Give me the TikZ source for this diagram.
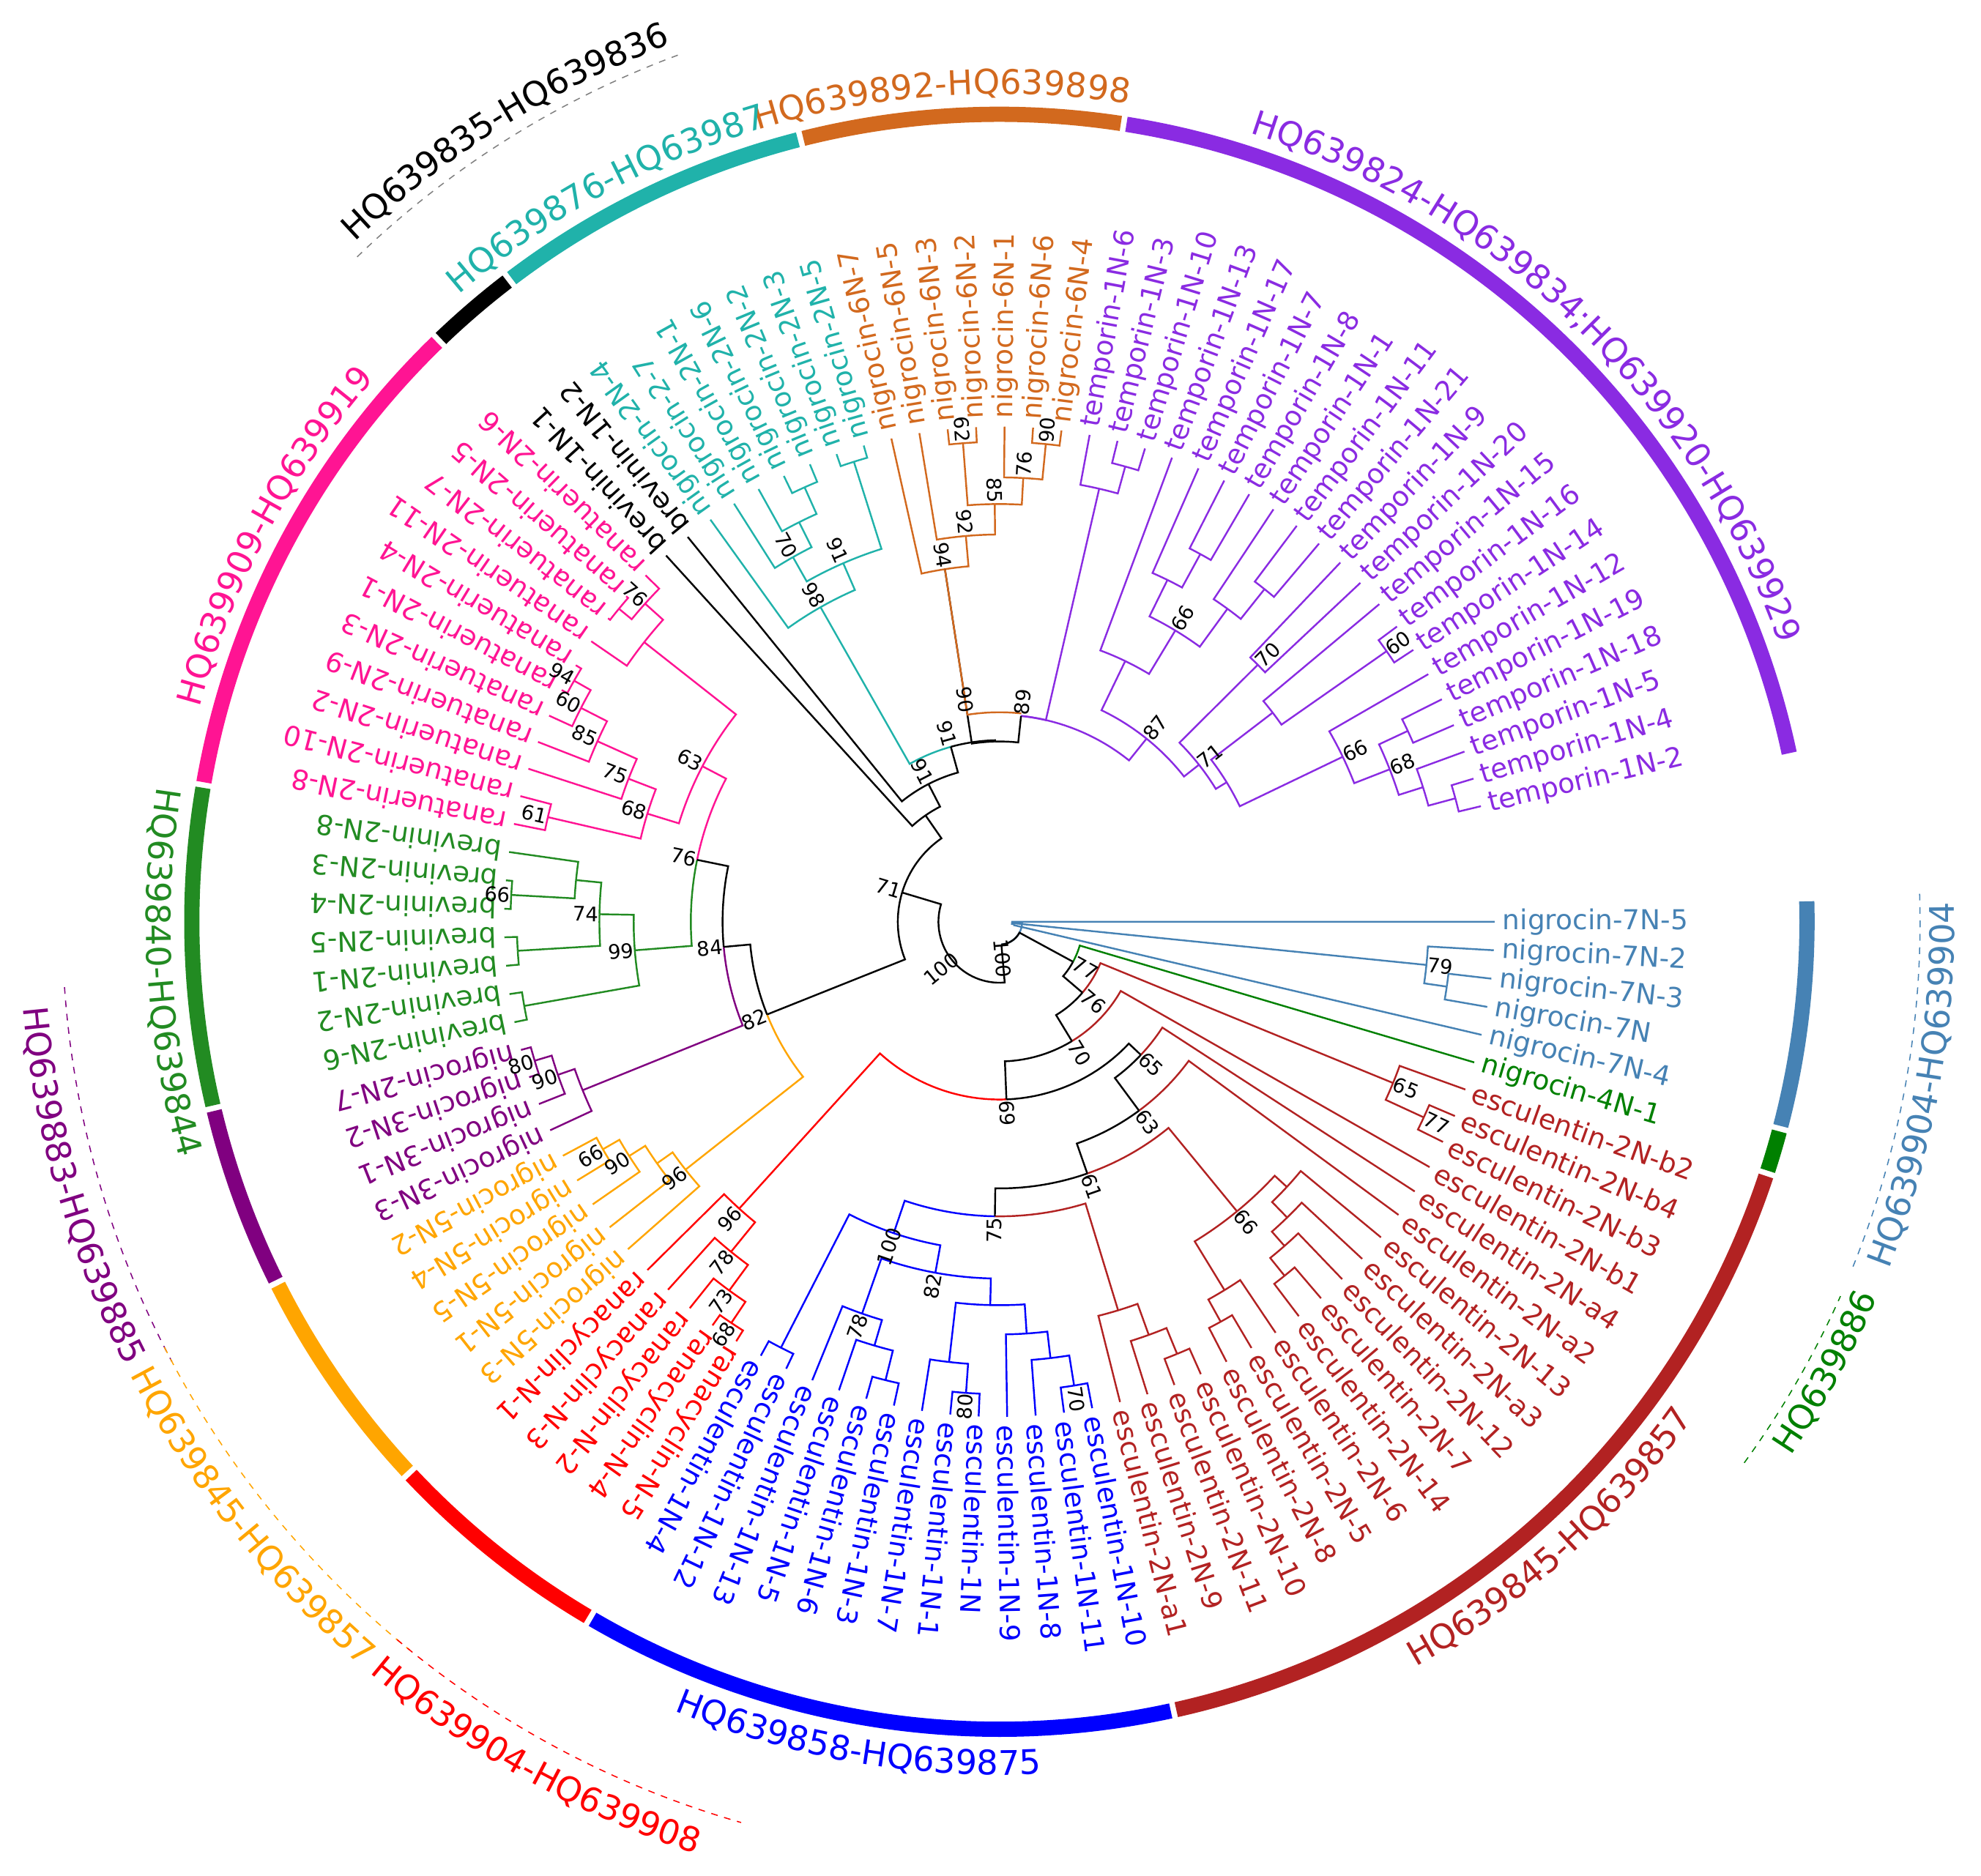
\documentclass[tikz,border=0pt]{standalone}
\usepackage{fontspec}
\setmainfont{DejaVu Sans}
\usetikzlibrary{decorations.text}
\definecolor{cSteel}{RGB}{70,130,180}
\definecolor{cGfour}{RGB}{0,128,0}
\definecolor{cBrown}{RGB}{178,34,34}
\definecolor{cBlue}{RGB}{0,0,255}
\definecolor{cRed}{RGB}{255,0,0}
\definecolor{cOrange}{RGB}{255,165,0}
\definecolor{cPurpleD}{RGB}{128,0,128}
\definecolor{cGreen}{RGB}{34,139,34}
\definecolor{cPink}{RGB}{255,20,147}
\definecolor{cTeal}{RGB}{32,178,170}
\definecolor{cChoc}{RGB}{210,105,30}
\definecolor{cViolet}{RGB}{138,43,226}
\newcommand\ringfont{\fontsize{15.2}{17}\selectfont}
\tikzset{
  br/.style={line width=0.8pt},
  leaf/.style={anchor=west,inner sep=0pt,font=\fontsize{12.3}{14}\selectfont},
  bs/.style={inner sep=0pt,font=\fontsize{9}{10}\selectfont,text=black},
  ringseg/.style={line width=0.24cm},
  dashlbl/.style={dashed,line width=0.5pt}
}
\newcommand\tlLeaf[4]{%
  \pgfmathsetmacro\tlang{-3.3*#2}%
  \expandafter\xdef\csname A@#1\endcsname{\tlang}%
  \expandafter\xdef\csname R@#1\endcsname{390}%
  \node[leaf,text=#4,rotate=\tlang] (#1) at (\tlang:396) {#3};}
\newcommand\tlDraw[6]{%
  \expandafter\xdef\csname A@#1\endcsname{\tlm}%
  \expandafter\xdef\csname R@#1\endcsname{#4}%
  \pgfmathsetmacro\tlra{\csname R@#2\endcsname}%
  \pgfmathsetmacro\tlrb{\csname R@#3\endcsname}%
  \draw[br,#5] (\tla:\tlra) -- (\tla:#4) arc[start angle=\tla,end angle=\tlm,radius=#4];
  \draw[br,#6] (\tlb:\tlrb) -- (\tlb:#4) arc[start angle=\tlb,end angle=\tlm,radius=#4];
  \coordinate (#1) at (\tlm:#4);}
\newcommand\tlNode[6]{%
  \pgfmathsetmacro\tla{\csname A@#2\endcsname}%
  \pgfmathsetmacro\tlb{\csname A@#3\endcsname}%
  \pgfmathsetmacro\tlm{(\tla+\tlb)/2}%
  \tlDraw{#1}{#2}{#3}{#4}{#5}{#6}}
\newcommand\tlNodeA[7]{%
  \pgfmathsetmacro\tla{\csname A@#2\endcsname}%
  \pgfmathsetmacro\tlb{\csname A@#3\endcsname}%
  \pgfmathsetmacro\tlm{#7}%
  \tlDraw{#1}{#2}{#3}{#4}{#5}{#6}}
\newcommand\tlBs[2]{%
  \pgfmathsetmacro\tlq{\csname A@#1\endcsname}%
  \pgfmathsetmacro\tlrot{cos(\tlq)>-0.0001 ? \tlq : \tlq+180}%
  \pgfmathsetmacro\tlrr{\csname R@#1\endcsname+11}%
  \node[bs,rotate=\tlrot] at (\tlq:\tlrr) {#2};}
\newcommand\tlRing[3]{\draw[ringseg,#3] (#1:636) arc[start angle=#1,end angle=#2,radius=636];}
\newcommand\tlRingLab[5]{\path[decorate,decoration={text along path,text align=center,text={|\ringfont\color{#4}|#5}}] (#1:#3) arc[start angle=#1,end angle=#2,radius=#3];}
\begin{document}
\begin{tikzpicture}[x=0.02cm,y=0.02cm]
\useasboundingbox (0,0) rectangle (1560,1477.5);
\begin{scope}[shift={(787,751.5)}]
% ---------------- leaves
\tlLeaf{sLfive}{0}{nigrocin-7N-5}{cSteel}
\tlLeaf{sLtwo}{1}{nigrocin-7N-2}{cSteel}
\tlLeaf{sLthree}{2}{nigrocin-7N-3}{cSteel}
\tlLeaf{sLsevenN}{3}{nigrocin-7N}{cSteel}
\tlLeaf{sLfour}{4}{nigrocin-7N-4}{cSteel}
\tlLeaf{nigfour}{5}{nigrocin-4N-1}{cGfour}
\tlLeaf{sbtwo}{6}{esculentin-2N-b2}{cBrown}
\tlLeaf{sbfour}{7}{esculentin-2N-b4}{cBrown}
\tlLeaf{sbthree}{8}{esculentin-2N-b3}{cBrown}
\tlLeaf{sbone}{9}{esculentin-2N-b1}{cBrown}
\tlLeaf{safour}{10}{esculentin-2N-a4}{cBrown}
\tlLeaf{satwo}{11}{esculentin-2N-a2}{cBrown}
\tlLeaf{sthirteen}{12}{esculentin-2N-13}{cBrown}
\tlLeaf{sathree}{13}{esculentin-2N-a3}{cBrown}
\tlLeaf{stwelve}{14}{esculentin-2N-12}{cBrown}
\tlLeaf{sseven}{15}{esculentin-2N-7}{cBrown}
\tlLeaf{sfourteen}{16}{esculentin-2N-14}{cBrown}
\tlLeaf{ssix}{17}{esculentin-2N-6}{cBrown}
\tlLeaf{sfive}{18}{esculentin-2N-5}{cBrown}
\tlLeaf{seight}{19}{esculentin-2N-8}{cBrown}
\tlLeaf{sten}{20}{esculentin-2N-10}{cBrown}
\tlLeaf{seleven}{21}{esculentin-2N-11}{cBrown}
\tlLeaf{snine}{22}{esculentin-2N-9}{cBrown}
\tlLeaf{saone}{23}{esculentin-2N-a1}{cBrown}
\tlLeaf{eLten}{24}{esculentin-1N-10}{cBlue}
\tlLeaf{eLeleven}{25}{esculentin-1N-11}{cBlue}
\tlLeaf{eLeight}{26}{esculentin-1N-8}{cBlue}
\tlLeaf{eLnine}{27}{esculentin-1N-9}{cBlue}
\tlLeaf{eLoneN}{28}{esculentin-1N}{cBlue}
\tlLeaf{eLone}{29}{esculentin-1N-1}{cBlue}
\tlLeaf{eLseven}{30}{esculentin-1N-7}{cBlue}
\tlLeaf{eLthree}{31}{esculentin-1N-3}{cBlue}
\tlLeaf{eLsix}{32}{esculentin-1N-6}{cBlue}
\tlLeaf{eLfive}{33}{esculentin-1N-5}{cBlue}
\tlLeaf{eLthirteen}{34}{esculentin-1N-13}{cBlue}
\tlLeaf{eLtwelve}{35}{esculentin-1N-12}{cBlue}
\tlLeaf{eLfour}{36}{esculentin-1N-4}{cBlue}
\tlLeaf{aLfive}{37}{ranacyclin-N-5}{cRed}
\tlLeaf{aLfour}{38}{ranacyclin-N-4}{cRed}
\tlLeaf{aLtwo}{39}{ranacyclin-N-2}{cRed}
\tlLeaf{aLthree}{40}{ranacyclin-N-3}{cRed}
\tlLeaf{aLone}{41}{ranacyclin-N-1}{cRed}
\tlLeaf{yLthree}{42}{nigrocin-5N-3}{cOrange}
\tlLeaf{yLone}{43}{nigrocin-5N-1}{cOrange}
\tlLeaf{yLfive}{44}{nigrocin-5N-5}{cOrange}
\tlLeaf{yLfour}{45}{nigrocin-5N-4}{cOrange}
\tlLeaf{yLtwo}{46}{nigrocin-5N-2}{cOrange}
\tlLeaf{qLthree}{47}{nigrocin-3N-3}{cPurpleD}
\tlLeaf{qLone}{48}{nigrocin-3N-1}{cPurpleD}
\tlLeaf{qLtwo}{49}{nigrocin-3N-2}{cPurpleD}
\tlLeaf{qLtwoseven}{50}{nigrocin-2N-7}{cPurpleD}
\tlLeaf{gLsix}{51}{brevinin-2N-6}{cGreen}
\tlLeaf{gLtwo}{52}{brevinin-2N-2}{cGreen}
\tlLeaf{gLone}{53}{brevinin-2N-1}{cGreen}
\tlLeaf{gLfive}{54}{brevinin-2N-5}{cGreen}
\tlLeaf{gLfour}{55}{brevinin-2N-4}{cGreen}
\tlLeaf{gLthree}{56}{brevinin-2N-3}{cGreen}
\tlLeaf{gLeight}{57}{brevinin-2N-8}{cGreen}
\tlLeaf{pLeight}{58}{ranatuerin-2N-8}{cPink}
\tlLeaf{pLten}{59}{ranatuerin-2N-10}{cPink}
\tlLeaf{pLtwo}{60}{ranatuerin-2N-2}{cPink}
\tlLeaf{pLnine}{61}{ranatuerin-2N-9}{cPink}
\tlLeaf{pLthree}{62}{ranatuerin-2N-3}{cPink}
\tlLeaf{pLone}{63}{ranatuerin-2N-1}{cPink}
\tlLeaf{pLfour}{64}{ranatuerin-2N-4}{cPink}
\tlLeaf{pLeleven}{65}{ranatuerin-2N-11}{cPink}
\tlLeaf{pLseven}{66}{ranatuerin-2N-7}{cPink}
\tlLeaf{pLfive}{67}{ranatuerin-2N-5}{cPink}
\tlLeaf{pLsix}{68}{ranatuerin-2N-6}{cPink}
\tlLeaf{bLone}{69}{brevinin-1N-1}{black}
\tlLeaf{bLtwo}{70}{brevinin-1N-2}{black}
\tlLeaf{cLfour}{71}{nigrocin-2N-4}{cTeal}
\tlLeaf{cLtwoseven}{72}{nigrocin-2-7}{cTeal}
\tlLeaf{cLone}{73}{nigrocin-2N-1}{cTeal}
\tlLeaf{cLsix}{74}{nigrocin-2N-6}{cTeal}
\tlLeaf{cLtwo}{75}{nigrocin-2N-2}{cTeal}
\tlLeaf{cLthree}{76}{nigrocin-2N-3}{cTeal}
\tlLeaf{cLfive}{77}{nigrocin-2N-5}{cTeal}
\tlLeaf{oLseven}{78}{nigrocin-6N-7}{cChoc}
\tlLeaf{oLfive}{79}{nigrocin-6N-5}{cChoc}
\tlLeaf{oLthree}{80}{nigrocin-6N-3}{cChoc}
\tlLeaf{oLtwo}{81}{nigrocin-6N-2}{cChoc}
\tlLeaf{oLone}{82}{nigrocin-6N-1}{cChoc}
\tlLeaf{oLsix}{83}{nigrocin-6N-6}{cChoc}
\tlLeaf{oLfour}{84}{nigrocin-6N-4}{cChoc}
\tlLeaf{tLsix}{85}{temporin-1N-6}{cViolet}
\tlLeaf{tLthree}{86}{temporin-1N-3}{cViolet}
\tlLeaf{tLten}{87}{temporin-1N-10}{cViolet}
\tlLeaf{tLthirteen}{88}{temporin-1N-13}{cViolet}
\tlLeaf{tLseventeen}{89}{temporin-1N-17}{cViolet}
\tlLeaf{tLseven}{90}{temporin-1N-7}{cViolet}
\tlLeaf{tLeight}{91}{temporin-1N-8}{cViolet}
\tlLeaf{tLone}{92}{temporin-1N-1}{cViolet}
\tlLeaf{tLeleven}{93}{temporin-1N-11}{cViolet}
\tlLeaf{tLtwentyone}{94}{temporin-1N-21}{cViolet}
\tlLeaf{tLnine}{95}{temporin-1N-9}{cViolet}
\tlLeaf{tLtwenty}{96}{temporin-1N-20}{cViolet}
\tlLeaf{tLfifteen}{97}{temporin-1N-15}{cViolet}
\tlLeaf{tLsixteen}{98}{temporin-1N-16}{cViolet}
\tlLeaf{tLfourteen}{99}{temporin-1N-14}{cViolet}
\tlLeaf{tLtwelve}{100}{temporin-1N-12}{cViolet}
\tlLeaf{tLnineteen}{101}{temporin-1N-19}{cViolet}
\tlLeaf{tLeighteen}{102}{temporin-1N-18}{cViolet}
\tlLeaf{tLfive}{103}{temporin-1N-5}{cViolet}
\tlLeaf{tLfour}{104}{temporin-1N-4}{cViolet}
\tlLeaf{tLtwo}{105}{temporin-1N-2}{cViolet}
% ---------------- temporin
\tlNode{Atwo}{tLthree}{tLten}{372}{cViolet}{cViolet}
\tlNode{Aa}{tLsix}{Atwo}{350}{cViolet}{cViolet}
\tlNode{Ctwo}{tLseven}{tLeight}{330}{cViolet}{cViolet}
\tlNode{Cc}{tLseventeen}{Ctwo}{300}{cViolet}{cViolet}
\tlNode{Htwot}{tLeleven}{tLtwentyone}{335}{cViolet}{cViolet}
\tlNode{Ht}{tLone}{Htwot}{305}{cViolet}{cViolet}
\tlNode{Nsixsixt}{Cc}{Ht}{268}{cViolet}{cViolet}
\tlNode{Nseventyt}{tLnine}{tLtwenty}{287}{cViolet}{cViolet}
\tlNode{Bb}{tLthirteen}{Nsixsixt}{228}{cViolet}{cViolet}
\tlNode{Fonebt}{tLsixteen}{tLfourteen}{372}{cViolet}{cViolet}
\tlNode{Fone}{tLfifteen}{Fonebt}{271}{cViolet}{cViolet}
\tlNode{Ffour}{tLnineteen}{tLeighteen}{355}{cViolet}{cViolet}
\tlNode{Fsix}{tLfour}{tLtwo}{372}{cViolet}{cViolet}
\tlNode{Ffive}{tLfive}{Fsix}{350}{cViolet}{cViolet}
\tlNode{Fthree}{Ffour}{Ffive}{330}{cViolet}{cViolet}
\tlNode{Ftwo}{tLtwelve}{Fthree}{300}{cViolet}{cViolet}
\tlNode{Ff}{Fone}{Ftwo}{210}{cViolet}{cViolet}
\tlNode{Nseventyonet}{Nseventyt}{Ff}{200}{cViolet}{cViolet}
\tlNode{Neightyseven}{Bb}{Nseventyonet}{185}{cViolet}{cViolet}
\tlNodeA{Neightynine}{Aa}{Neightyseven}{163}{cViolet}{cViolet}{-276}
% ---------------- 6N
\tlNode{Nsixtytwo}{oLthree}{oLtwo}{378}{cChoc}{cChoc}
\tlNode{Nninetyo}{oLsix}{oLfour}{378}{cChoc}{cChoc}
\tlNode{Nseventysixo}{oLone}{Nninetyo}{350}{cChoc}{cChoc}
\tlNode{Neightyfive}{Nsixtytwo}{Nseventysixo}{329}{cChoc}{cChoc}
\tlNode{Nninetytwo}{oLfive}{Neightyfive}{305}{cChoc}{cChoc}
\tlNode{Nninetyfour}{oLseven}{Nninetytwo}{281}{cChoc}{cChoc}
\tlNode{Nx}{Nninetyfour}{Neightynine}{142}{black}{black}
\pgfmathsetmacro\tlo{\csname A@Nninetyfour\endcsname}
\draw[br,cChoc] (\tlo:281) -- (\tlo:165) arc[start angle=\tlo,end angle=-276,radius=165];
\pgfmathsetmacro\tlrot{\tlo+180}
\node[bs,rotate=\tlrot] at (\tlo:177) {90};
% ---------------- teal
\tlNode{Tthree}{cLsix}{cLtwo}{375}{cTeal}{cTeal}
\tlNode{Ttwo}{cLone}{Tthree}{352}{cTeal}{cTeal}
\tlNode{Tseventy}{cLtwoseven}{Ttwo}{330}{cTeal}{cTeal}
\tlNode{Tpfive}{cLthree}{cLfive}{380}{cTeal}{cTeal}
\tlNode{Tninetyone}{Tseventy}{Tpfive}{308}{cTeal}{cTeal}
\tlNode{Tninetyeight}{cLfour}{Tninetyone}{285}{cTeal}{cTeal}
\tlNode{Nninetyoneb}{Tninetyeight}{Nx}{143}{cTeal}{black}
\tlNode{Nninetyonec}{bLtwo}{Nninetyoneb}{122}{black}{black}
\tlNode{Nninetyonea}{bLone}{Nninetyonec}{102}{black}{black}
% ---------------- ranatuerin
\tlNode{Rsixtyone}{pLeight}{pLten}{365}{cPink}{cPink}
\tlNode{Rninetyfour}{pLone}{pLfour}{385}{cPink}{cPink}
\tlNode{Rsixty}{pLthree}{Rninetyfour}{370}{cPink}{cPink}
\tlNode{Reightyfive}{pLnine}{Rsixty}{347}{cPink}{cPink}
\tlNode{Rseventyfive}{pLtwo}{Reightyfive}{313}{cPink}{cPink}
\tlNode{Rsixtyeight}{Rsixtyone}{Rseventyfive}{290}{cPink}{cPink}
\tlNode{Uthree}{pLseven}{pLfive}{388}{cPink}{cPink}
\tlNode{Useventysix}{Uthree}{pLsix}{375}{cPink}{cPink}
\tlNode{Uone}{pLeleven}{Useventysix}{356}{cPink}{cPink}
\tlNode{Rsixtythree}{Rsixtyeight}{Uone}{264}{cPink}{cPink}
% ---------------- brevinin-2N
\tlNode{Ga}{gLsix}{gLtwo}{380}{cGreen}{cGreen}
\tlNode{Gb}{gLone}{gLfive}{380}{cGreen}{cGreen}
\tlNode{Gsixtysix}{gLfour}{gLthree}{385}{cGreen}{cGreen}
\tlNode{Gone}{Gsixtysix}{gLeight}{335}{cGreen}{cGreen}
\tlNode{Gseventyfour}{Gb}{Gone}{315}{cGreen}{cGreen}
\tlNode{Gninetynine}{Ga}{Gseventyfour}{288}{cGreen}{cGreen}
\tlNode{Nseventysixp}{Gninetynine}{Rsixtythree}{243}{cGreen}{cPink}
% ---------------- 3N
\tlNode{Peighty}{qLtwo}{qLtwoseven}{382}{cPurpleD}{cPurpleD}
\tlNode{Pb}{qLone}{Peighty}{368}{cPurpleD}{cPurpleD}
\tlNode{Pninety}{qLthree}{Pb}{354}{cPurpleD}{cPurpleD}
\tlNode{Neightyfour}{Nseventysixp}{Pninety}{218}{black}{cPurpleD}
% ---------------- 5N
\tlNode{Ysixtysix}{yLfour}{yLtwo}{360}{cOrange}{cOrange}
\tlNode{Yninety}{yLfive}{Ysixtysix}{345}{cOrange}{cOrange}
\tlNode{Yq}{yLone}{Yninety}{330}{cOrange}{cOrange}
\tlNode{Yninetysix}{yLthree}{Yq}{315}{cOrange}{cOrange}
\tlNode{Neightytwo}{Yninetysix}{Neightyfour}{197}{cOrange}{black}
\tlNode{Nseventyone}{Neightytwo}{Nninetyonea}{80}{black}{black}
% ---------------- ranacyclin
\tlNode{Asixtyeight}{aLfive}{aLfour}{380}{cRed}{cRed}
\tlNode{Aseventythree}{Asixtyeight}{aLtwo}{360}{cRed}{cRed}
\tlNode{Aseventyeight}{Aseventythree}{aLthree}{335}{cRed}{cRed}
\tlNode{Aninetysix}{Aseventyeight}{aLone}{305}{cRed}{cRed}
% ---------------- esculentin-1N
\tlNode{Eseventy}{eLten}{eLeleven}{370}{cBlue}{cBlue}
\tlNode{Ew}{eLeight}{Eseventy}{346}{cBlue}{cBlue}
\tlNode{Eztwo}{eLnine}{Ew}{325}{cBlue}{cBlue}
\tlNode{Eeighty}{eLoneN}{eLone}{372}{cBlue}{cBlue}
\tlNode{Ezone}{Eeighty}{eLseven}{349}{cBlue}{cBlue}
\tlNode{Ez}{Eztwo}{Ezone}{302}{cBlue}{cBlue}
\tlNode{Ey}{eLthree}{eLsix}{372}{cBlue}{cBlue}
\tlNode{Ex}{Ey}{eLfive}{348}{cBlue}{cBlue}
\tlNode{Eseventyeight}{Ex}{eLthirteen}{327}{cBlue}{cBlue}
\tlNode{Eeightytwo}{Ez}{Eseventyeight}{281}{cBlue}{cBlue}
\tlNode{Efortyone}{eLtwelve}{eLfour}{377}{cBlue}{cBlue}
\tlNode{Ehundred}{Eeightytwo}{Efortyone}{259}{cBlue}{cBlue}
% ---------------- esculentin-2N
\tlNode{Sseventyseven}{sbfour}{sbthree}{368}{cBrown}{cBrown}
\tlNode{Ssixtyfive}{sbtwo}{Sseventyseven}{335}{cBrown}{cBrown}
\tlNode{Hfour}{sseven}{sfourteen}{358}{cBrown}{cBrown}
\tlNode{Hthree}{stwelve}{Hfour}{340}{cBrown}{cBrown}
\tlNode{Htwo}{sathree}{Hthree}{325}{cBrown}{cBrown}
\tlNode{Hone}{sthirteen}{Htwo}{308}{cBrown}{cBrown}
\tlNode{Ltwo}{sfive}{seight}{360}{cBrown}{cBrown}
\tlNode{Lone}{ssix}{Ltwo}{340}{cBrown}{cBrown}
\tlNode{Ssixtysix}{Hone}{Lone}{295}{cBrown}{cBrown}
\tlNode{Gthreee}{sten}{seleven}{368}{cBrown}{cBrown}
\tlNode{Gtwoe}{Gthreee}{snine}{346}{cBrown}{cBrown}
\tlNode{Gonee}{Gtwoe}{saone}{320}{cBrown}{cBrown}
\tlNode{Nseventyfive}{Gonee}{Ehundred}{232}{cBrown}{cBlue}
\tlNode{Nsixtyone}{Ssixtysix}{Nseventyfive}{210}{cBrown}{black}
\tlNode{Nsixtythree}{satwo}{Nsixtyone}{185}{cBrown}{black}
\tlNode{Nsixtyfiveu}{safour}{Nsixtythree}{153}{cBrown}{black}
\tlNode{Nsixtynine}{Nsixtyfiveu}{Aninetysix}{140}{black}{cRed}
\tlNode{Nseventye}{sbone}{Nsixtynine}{110}{cBrown}{black}
\tlNode{Nseventysixe}{Ssixtyfive}{Nseventye}{86}{cBrown}{black}
\tlNode{Nseventyseven}{nigfour}{Nseventysixe}{66}{cGfour}{black}
% ---------------- 7N and hub
\tlNode{Nseventynineb}{sLthree}{sLsevenN}{356}{cSteel}{cSteel}
\tlNode{Nseventynine}{sLtwo}{Nseventynineb}{338}{cSteel}{cSteel}
\tlNode{Btwo}{Nseventynine}{sLfour}{12}{cSteel}{cSteel}
\tlNode{Bone}{sLfive}{Btwo}{10}{cSteel}{cSteel}
\tlNodeA{Nhundredb}{Bone}{Nseventyseven}{18}{cSteel}{black}{-85}
\tlNode{root}{Nseventyone}{Nhundredb}{48}{black}{black}
% ---------------- bootstrap values
\tlBs{Neightynine}{89}\tlBs{Neightyseven}{87}\tlBs{Nsixsixt}{66}\tlBs{Nseventyt}{70}
\tlBs{Nseventyonet}{71}\tlBs{Fonebt}{60}\tlBs{Ftwo}{66}\tlBs{Fthree}{68}
\tlBs{Nninetyfour}{94}\tlBs{Nninetytwo}{92}\tlBs{Neightyfive}{85}\tlBs{Nsixtytwo}{62}
\tlBs{Nseventysixo}{76}\tlBs{Nninetyo}{90}
\tlBs{Tninetyeight}{98}\tlBs{Tninetyone}{91}\tlBs{Tseventy}{70}\tlBs{Nninetyoneb}{91}\tlBs{Nninetyonec}{91}
\tlBs{Rsixtyone}{61}\tlBs{Rninetyfour}{94}\tlBs{Rsixty}{60}\tlBs{Reightyfive}{85}
\tlBs{Rseventyfive}{75}\tlBs{Useventysix}{76}\tlBs{Rsixtythree}{63}\tlBs{Rsixtyeight}{68}\tlBs{Nseventysixp}{76}
\tlBs{Gsixtysix}{66}\tlBs{Gseventyfour}{74}\tlBs{Gninetynine}{99}
\tlBs{Peighty}{80}\tlBs{Pb}{90}\tlBs{Neightyfour}{84}
\tlBs{Ysixtysix}{66}\tlBs{Yninety}{90}\tlBs{Yninetysix}{96}\tlBs{Neightytwo}{82}\tlBs{Nseventyone}{71}
\tlBs{Asixtyeight}{68}\tlBs{Aseventythree}{73}\tlBs{Aseventyeight}{78}\tlBs{Aninetysix}{96}
\tlBs{Eseventy}{70}\tlBs{Eeighty}{80}\tlBs{Eseventyeight}{78}\tlBs{Eeightytwo}{82}\tlBs{Ehundred}{100}
\tlBs{Sseventyseven}{77}\tlBs{Ssixtyfive}{65}\tlBs{Ssixtysix}{66}\tlBs{Nseventyfive}{75}
\tlBs{Nsixtyone}{61}\tlBs{Nsixtythree}{63}\tlBs{Nsixtyfiveu}{65}\tlBs{Nsixtynine}{69}
\tlBs{Nseventye}{70}\tlBs{Nseventysixe}{76}\tlBs{Nseventyseven}{77}\tlBs{Nseventynine}{79}
\tlBs{Nhundredb}{100}\tlBs{root}{100}
% ---------------- ring
\tlRing{1.45}{-14.65}{cSteel}
\tlRing{-15.05}{-17.95}{cGfour}
\tlRing{-18.35}{-77.35}{cBrown}
\tlRing{-77.75}{-120.25}{cBlue}
\tlRing{-120.65}{-136.75}{cRed}
\tlRing{-137.15}{-153.25}{cOrange}
\tlRing{-153.65}{-166.45}{cPurpleD}
\tlRing{-166.85}{-189.55}{cGreen}
\tlRing{-189.95}{-225.85}{cPink}
\tlRing{-226.25}{-232.45}{black}
\tlRing{-232.85}{-255.55}{cTeal}
\tlRing{-255.95}{-278.65}{cChoc}
\tlRing{-279.05}{-347.95}{cViolet}
% ---------------- ring labels
\tlRingLab{86}{6}{652}{cViolet}{HQ639824-HQ639834;HQ639920-HQ639929}
\tlRingLab{114}{74}{652}{cChoc}{HQ639892-HQ639898}
\tlRingLab{138.5}{98.5}{652}{cTeal}{HQ639876-HQ63987}
\tlRingLab{142}{102}{738}{black}{HQ639835-HQ639836}
\draw[dashlbl,gray] (134:728) arc[start angle=134,end angle=110,radius=728];
\tlRingLab{172}{132}{652}{cPink}{HQ639909-HQ639919}
\tlRingLab{163.5}{203.5}{672}{cGreen}{HQ639840-HQ639844}
\tlRingLab{176}{216}{772}{cPurpleD}{HQ639883-HQ639885}
\draw[dashlbl,cPurpleD] (184:738) arc[start angle=184,end angle=208,radius=738];
\tlRingLab{198.5}{238.5}{772}{cOrange}{HQ639845-HQ639857}
\draw[dashlbl,cOrange] (207:738) arc[start angle=207,end angle=231,radius=738];
\tlRingLab{221}{261}{772}{cRed}{HQ639904-HQ639908}
\draw[dashlbl,cRed] (230:738) arc[start angle=230,end angle=254,radius=738];
\tlRingLab{240.2}{280.2}{672}{cBlue}{HQ639858-HQ639875}
\tlRingLab{291.8}{331.8}{672}{cBrown}{HQ639845-HQ639857}
\tlRingLab{311.4}{351.4}{752}{cGfour}{HQ639886}
\draw[dashlbl,cGfour] (324:725) arc[start angle=324,end angle=336,radius=725];
\tlRingLab{329.9}{369.9}{752}{cSteel}{HQ639904-HQ639904}
\draw[dashlbl,cSteel] (338:725) arc[start angle=338,end angle=362,radius=725];
\end{scope}
\end{tikzpicture}
\end{document}
